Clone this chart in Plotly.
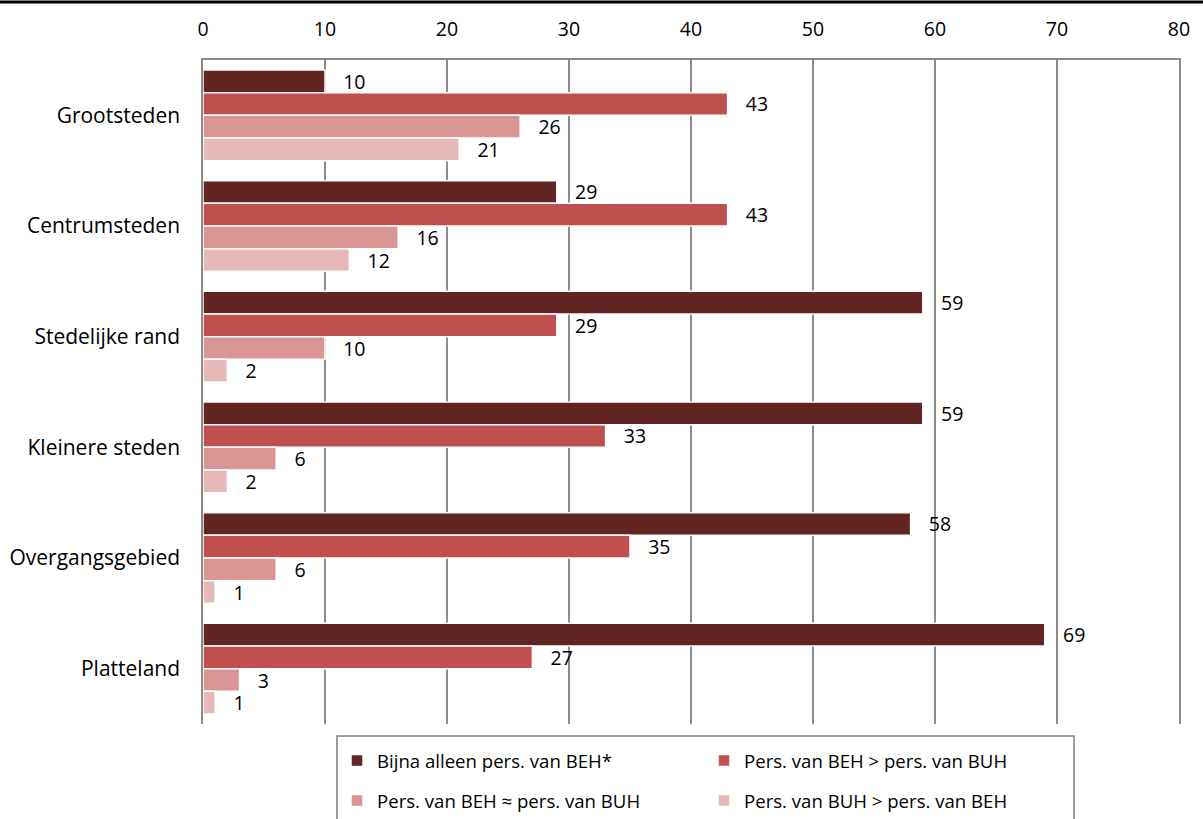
import plotly.graph_objects as go

categories = ["Grootsteden", "Centrumsteden", "Stedelijke rand", "Kleinere steden", "Overgangsgebied", "Platteland"]
series_names = [
    "Bijna alleen pers. van BEH*",
    "Pers. van BEH > pers. van BUH",
    "Pers. van BEH \u2248 pers. van BUH",
    "Pers. van BUH > pers. van BEH",
]
s1 = [10, 29, 59, 59, 58, 69]
s2 = [43, 43, 29, 33, 35, 27]
s3 = [26, 16, 10, 6, 6, 3]
s4 = [21, 12, 2, 2, 1, 1]
colors = ["#632523", "#C0504D", "#D99694", "#E6B9B8"]
x_ticks = [0, 10, 20, 30, 40, 50, 60, 70, 80]

FONT = "Open Sans, Lato, sans-serif"
legend_ids = ["legend", "legend", "legend2", "legend2"]

fig = go.Figure()
for name, vals, col, lg in zip(series_names, [s1, s2, s3, s4], colors, legend_ids):
    fig.add_trace(go.Bar(
        y=categories, x=vals, name=name, orientation="h",
        marker=dict(color=col, line=dict(color="white", width=1.5)),
        text=[str(v) for v in vals],
        texttemplate="   %{text}",
        textposition="outside",
        constraintext="none",
        textfont=dict(family=FONT, size=19.5, color="#000000"),
        cliponaxis=False,
        legend=lg,
    ))

PW, PH = 976, 664
leg_common = dict(
    orientation="h", xanchor="left", yanchor="top",
    entrywidth=322, entrywidthmode="pixels",
    borderwidth=0, bgcolor="rgba(0,0,0,0)",
    font=dict(family=FONT, size=18.6, color="#000000"),
    itemwidth=30, traceorder="normal",
)

fig.update_layout(
    width=1203, height=819,
    margin=dict(l=203, r=24, t=60, b=95, autoexpand=False),
    paper_bgcolor="white", plot_bgcolor="white",
    barmode="group", bargap=0.18, bargroupgap=0,
    font=dict(family=FONT, size=18, color="#000000"),
    showlegend=True,
    legend=dict(x=(337 - 203) / PW, y=(724 - 742) / PH, **leg_common),
    legend2=dict(x=(337 - 203) / PW, y=(724 - 782) / PH, **leg_common),
    xaxis=dict(
        side="top", range=[0, 80], tickvals=x_ticks,
        showgrid=True, gridcolor="#8c8c8c", gridwidth=1.5,
        showline=True, linecolor="#8c8c8c", linewidth=1.5, mirror=False,
        ticks="", ticklabelstandoff=14, zeroline=False,
        tickfont=dict(family=FONT, size=19.5),
    ),
    yaxis=dict(
        categoryorder="array", categoryarray=categories, autorange="reversed",
        showline=True, linecolor="#8c8c8c", linewidth=1.5, mirror=True,
        ticks="", ticklabelstandoff=17, showgrid=False,
        tickfont=dict(family=FONT, size=21),
    ),
)

# legend frame
fig.add_shape(type="rect", xref="paper", yref="paper",
              x0=(337 - 203) / PW, x1=(1074 - 203) / PW,
              y0=(724 - 736) / PH, y1=(724 - 840) / PH,
              line=dict(color="#808080", width=1.5), fillcolor="rgba(0,0,0,0)")

# top black rule across the page
fig.add_shape(type="line", xref="paper", yref="paper",
              x0=-203 / PW, x1=(1203 - 203) / PW, y0=1 + 58 / PH, y1=1 + 58 / PH,
              line=dict(color="black", width=3))

fig.write_html("out.html", config={"displayModeBar": False},
               post_script="document.body.style.margin='0px';")
